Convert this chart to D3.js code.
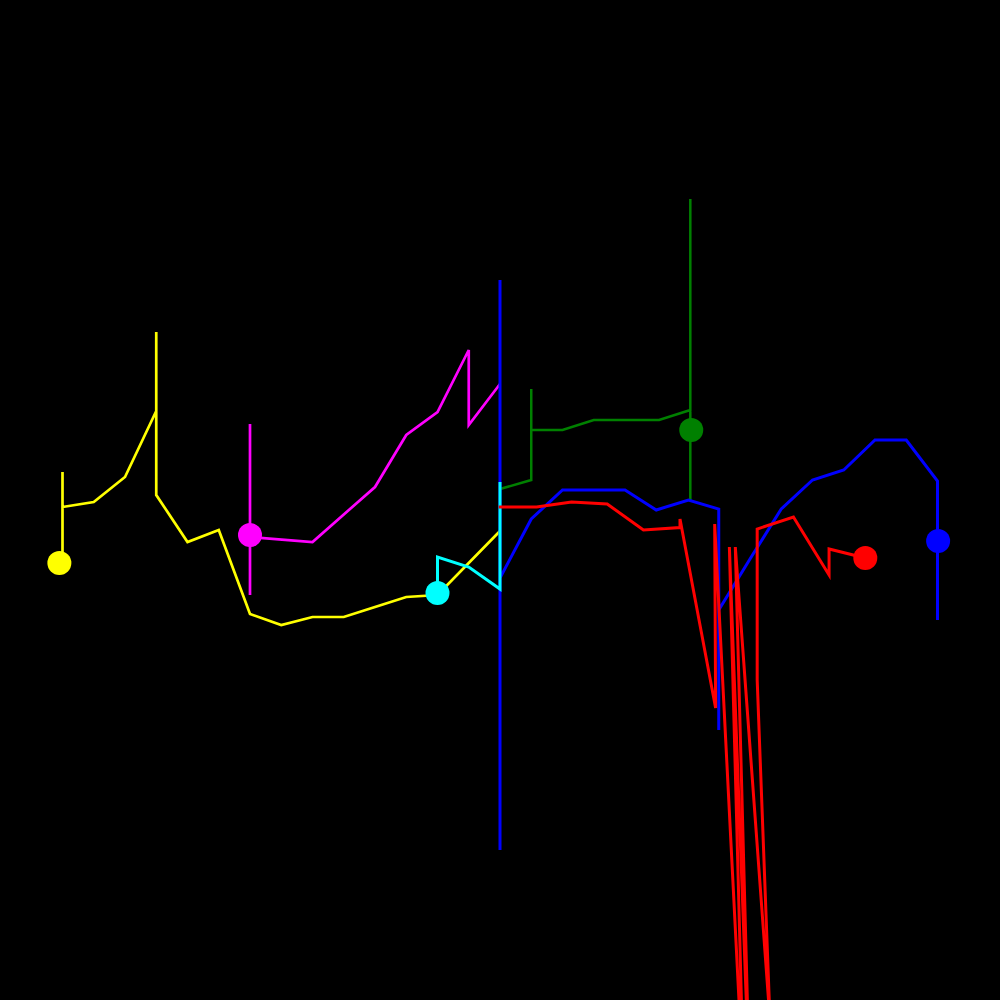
<!DOCTYPE html>
<html>
<head>
<meta charset="utf-8">
<script src="https://cdn.jsdelivr.net/npm/d3@7"></script>
<style>
  html, body { margin: 0; padding: 0; background: #000; }
  svg { display: block; }
</style>
</head>
<body>
<svg id="chart" width="1000" height="1000"></svg>
<script>
// ---- data (x = step index, y = value) ----
const yellowX = [2, 2, 2, 3, 4, 5, 5, 5, 6, 7, 8, 9, 10, 11, 12, 13, 14, 16];
const yellowY = [43.7, 52.8, 49.3, 49.8, 52.3, 58.9, 66.8, 50.5, 45.8, 47.0, 38.6, 37.5, 38.3, 38.3, 39.3, 40.3, 40.5, 46.9];
const yellowMarker = [1.9, 43.7];

const magentaX = [8, 8, 8, 10, 12, 13, 14, 15, 15, 16];
const magentaY = [40.5, 57.6, 46.3, 45.8, 51.3, 56.5, 58.8, 65.0, 57.5, 61.6];
const magentaMarker = [8, 46.5];

const greenX = [16, 17, 17, 17, 18, 19, 21.09, 22.09, 22.09, 22.09];
const greenY = [51.1, 52.0, 61.1, 57.0, 57.0, 58.0, 58.0, 59.0, 80.1, 50.0];
const greenMarker = [22.12, 57.0];

const blueX = [16, 16, 16, 17, 18, 20, 21, 22.03, 23, 23, 23, 24, 25, 26, 27, 28, 29, 30, 30];
const blueY = [15.0, 72.0, 42.2, 48.1, 51.0, 51.0, 49.0, 50.0, 49.1, 27.0, 39.0, 44.1, 49.1, 52.0, 53.0, 56.0, 56.0, 51.9, 38.0];
const blueMarker = [30.02, 45.9];

const cyanX = [14, 14, 15, 16, 16];
const cyanY = [40.7, 44.3, 43.3, 41.1, 51.8];
const cyanMarker = [14.0, 40.7];

const redX = [15.96, 17.17, 18.29, 19.43, 20.59, 21.76, 21.76, 22.90, 22.87, 23.81, 23.34, 24.0, 23.53, 24.64, 24.23, 24.23, 25.39, 26.53, 26.53, 27.69];
const redY = [49.3, 49.3, 49.8, 49.6, 47.0, 47.25, 48.1, 29.2, 47.6, -10.0, 45.3, -10.0, 45.3, -2.0, 32.0, 47.1, 48.3, 42.5, 45.1, 44.2];
const redMarker = [27.69, 44.2];

const series = [
  { name: "yellow",  color: "#ffff00", width: 2.7, xs: yellowX,  ys: yellowY,  marker: yellowMarker },
  { name: "magenta", color: "#ff00ff", width: 2.7, xs: magentaX, ys: magentaY, marker: magentaMarker },
  { name: "green",   color: "#008000", width: 2.5, xs: greenX,   ys: greenY,   marker: greenMarker },
  { name: "blue",    color: "#0000ff", width: 3,   xs: blueX,    ys: blueY,    marker: blueMarker },
  { name: "cyan",    color: "#00ffff", width: 3,   xs: cyanX,    ys: cyanY,    marker: cyanMarker },
  { name: "red",     color: "#ff0000", width: 3,   xs: redX,     ys: redY,     marker: redMarker }
];

// ---- drawing ----
const W = 1000, H = 1000;
const x = d3.scaleLinear().domain([0, 32]).range([0, W]);
const y = d3.scaleLinear().domain([0, 100]).range([H, 0]);

const svg = d3.select("#chart");
svg.append("rect").attr("width", W).attr("height", H).attr("fill", "#000");

const line = d3.line().x(d => x(d[0])).y(d => y(d[1]));

const gLines = svg.append("g");
series.forEach(s => {
  const pts = s.xs.map((v, i) => [v, s.ys[i]]);
  gLines.append("path")
    .datum(pts)
    .attr("d", line)
    .attr("fill", "none")
    .attr("stroke", s.color)
    .attr("stroke-width", s.width)
    .attr("stroke-linejoin", "miter")
    .attr("stroke-linecap", "butt");
});

svg.append("g").selectAll("circle")
  .data(series)
  .join("circle")
  .attr("cx", s => x(s.marker[0]))
  .attr("cy", s => y(s.marker[1]))
  .attr("r", 12)
  .attr("fill", s => s.color);
</script>
</body>
</html>
